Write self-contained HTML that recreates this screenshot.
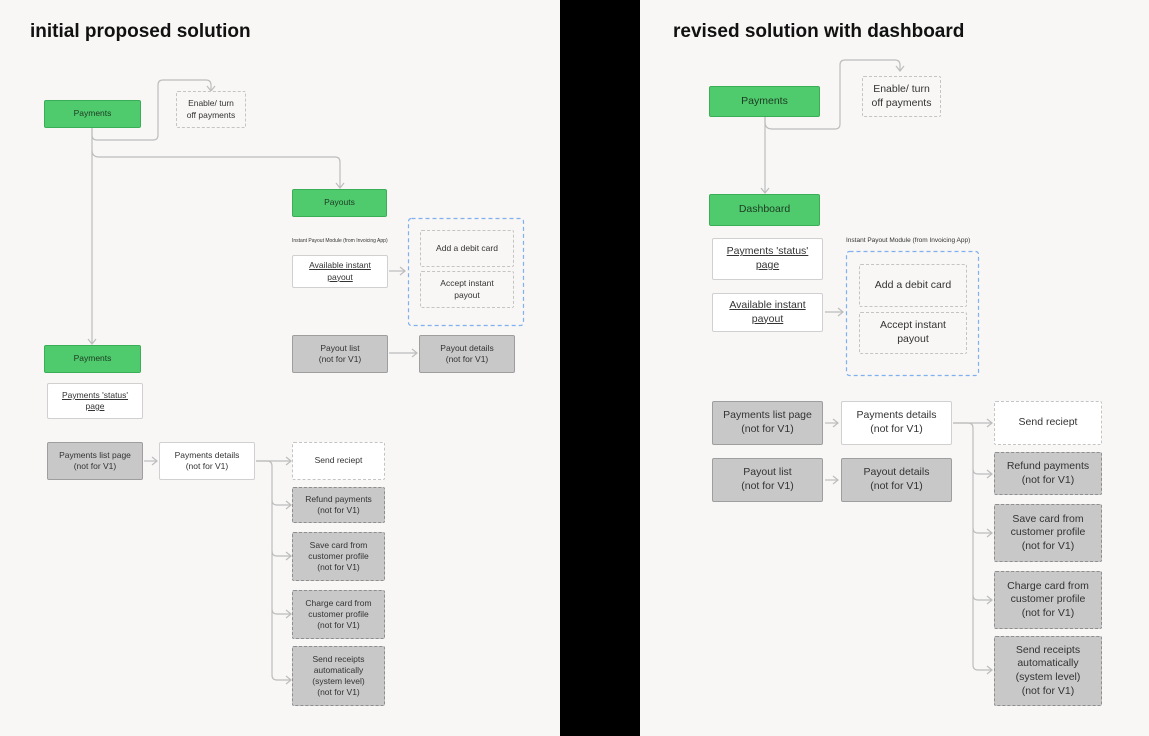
<!DOCTYPE html>
<html><head><meta charset="utf-8"><style>
body{margin:0;width:1149px;height:736px;background:#f8f7f5;position:relative;overflow:hidden;font-family:"Liberation Sans",sans-serif;color:#333}
.b{position:absolute;box-sizing:border-box;display:flex;align-items:center;justify-content:center;text-align:center;line-height:1.3;border-radius:2px}
.g{background:#4fcb6d;border:1px solid #3aae57;color:#1d3a22}
.w{background:#fff;border:1px solid #d0d0d0}
.d{background:#f8f7f5;border:1px dashed #c4c4c4}
.dw{background:#fff;border:1px dashed #c4c4c4}
.gr{background:#c8c8c8;border:1px solid #9e9e9e}
.gd{background:#c8c8c8;border:1px dashed #8e8e8e}
.u{text-decoration:underline}
.L{font-size:8.5px}
.R{font-size:10.5px}
.t{position:absolute;font-weight:bold;font-size:19px;color:#111}
.cap{position:absolute;white-space:nowrap}
</style></head><body>
<div style="position:absolute;left:560px;top:0;width:80px;height:736px;background:#000"></div>
<div class="t" style="left:30px;top:21px">initial proposed solution</div>
<div class="t" style="left:673px;top:21px">revised solution with dashboard</div>
<svg width="1149" height="736" style="position:absolute;left:0;top:0" fill="none" stroke="#bdbdbd" stroke-width="1.2">
<path d="M92 128 V344"/><path d="M88 339 L92 344 L96 339"/>
<path d="M92 128 V135 Q92 140 97 140 H153 Q158 140 158 135 V85 Q158 80 163 80 H206 Q211 80 211 85 V90"/><path d="M207 86 L211 91 L215 86"/>
<path d="M92 150 Q92 157 99 157 H335 Q340 157 340 162 V188"/><path d="M336 183 L340 188 L344 183"/>
<path d="M389 271 H405"/><path d="M400 267 L405 271 L400 275"/>
<path d="M389 353 H417"/><path d="M412 349 L417 353 L412 357"/>
<path d="M144 461 H157"/><path d="M152 457 L157 461 L152 465"/>
<path d="M256 461 H267 Q272 461 272 466 V675 Q272 680 277 680 H291"/>
<path d="M256 461 H290"/>
<path d="M272 500 Q272 505 277 505 H290 M272 551 Q272 556 277 556 H290 M272 609 Q272 614 277 614 H290"/>
<path d="M286 457 L291 461 L286 465 M286 501 L291 505 L286 509 M286 552 L291 556 L286 560 M286 610 L291 614 L286 618 M286 676 L291 680 L286 684"/>
<path d="M765 117 V193"/><path d="M761 188 L765 193 L769 188"/>
<path d="M765 117 V122 Q765 129 772 129 H835 Q840 129 840 124 V65 Q840 60 845 60 H895 Q900 60 900 65 V70"/><path d="M896 66 L900 71 L904 66"/>
<path d="M825 312 H843"/><path d="M838 308 L843 312 L838 316"/>
<path d="M825 423 H838"/><path d="M833 419 L838 423 L833 427"/>
<path d="M825 480 H838"/><path d="M833 476 L838 480 L833 484"/>
<path d="M953 423 H992"/>
<path d="M953 423 H968 Q973 423 973 428 V665 Q973 670 978 670 H992"/>
<path d="M973 469 Q973 474 978 474 H992 M973 528 Q973 533 978 533 H992 M973 595 Q973 600 978 600 H992"/>
<path d="M987 419 L992 423 L987 427 M987 470 L992 474 L987 478 M987 529 L992 533 L987 537 M987 596 L992 600 L987 604 M987 666 L992 670 L987 674"/>
<rect x="408.5" y="218.5" width="115" height="107" rx="3" stroke="#7fb0f0" stroke-dasharray="4 3"/>
<rect x="846.5" y="251.5" width="132" height="124" rx="3" stroke="#7fb0f0" stroke-dasharray="4 3"/>
</svg>
<!-- left -->
<div class="b g L" style="left:44px;top:100px;width:97px;height:28px">Payments</div>
<div class="b d L" style="left:176px;top:91px;width:70px;height:37px">Enable/ turn<br>off payments</div>
<div class="b g L" style="left:292px;top:189px;width:95px;height:28px">Payouts</div>
<div class="cap" style="left:292px;top:238px;font-size:5px">Instant Payout Module (from Invoicing App)</div>
<div class="b w L u" style="left:292px;top:255px;width:96px;height:33px">Available instant<br>payout</div>
<div class="b d L" style="left:420px;top:230px;width:94px;height:37px">Add a debit card</div>
<div class="b d L" style="left:420px;top:271px;width:94px;height:37px">Accept instant<br>payout</div>
<div class="b gr L" style="left:292px;top:335px;width:96px;height:38px">Payout list<br>(not for V1)</div>
<div class="b gr L" style="left:419px;top:335px;width:96px;height:38px">Payout details<br>(not for V1)</div>
<div class="b g L" style="left:44px;top:345px;width:97px;height:28px">Payments</div>
<div class="b w L u" style="left:47px;top:383px;width:96px;height:36px">Payments 'status'<br>page</div>
<div class="b gr L" style="left:47px;top:442px;width:96px;height:38px">Payments list page<br>(not for V1)</div>
<div class="b w L" style="left:159px;top:442px;width:96px;height:38px">Payments details<br>(not for V1)</div>
<div class="b dw L" style="left:292px;top:442px;width:93px;height:38px">Send reciept</div>
<div class="b gd L" style="left:292px;top:487px;width:93px;height:36px">Refund payments<br>(not for V1)</div>
<div class="b gd L" style="left:292px;top:532px;width:93px;height:49px">Save card from<br>customer profile<br>(not for V1)</div>
<div class="b gd L" style="left:292px;top:590px;width:93px;height:49px">Charge card from<br>customer profile<br>(not for V1)</div>
<div class="b gd L" style="left:292px;top:646px;width:93px;height:60px">Send receipts<br>automatically<br>(system level)<br>(not for V1)</div>
<!-- right -->
<div class="b g R" style="left:709px;top:86px;width:111px;height:31px">Payments</div>
<div class="b d R" style="left:862px;top:76px;width:79px;height:41px">Enable/ turn<br>off payments</div>
<div class="b g R" style="left:709px;top:194px;width:111px;height:32px">Dashboard</div>
<div class="b w R u" style="left:712px;top:238px;width:111px;height:42px">Payments 'status'<br>page</div>
<div class="b w R u" style="left:712px;top:293px;width:111px;height:39px">Available instant<br>payout</div>
<div class="cap" style="left:846px;top:237px;font-size:6.5px">Instant Payout Module (from Invoicing App)</div>
<div class="b d R" style="left:859px;top:264px;width:108px;height:43px">Add a debit card</div>
<div class="b d R" style="left:859px;top:312px;width:108px;height:42px">Accept instant<br>payout</div>
<div class="b gr R" style="left:712px;top:401px;width:111px;height:44px">Payments list page<br>(not for V1)</div>
<div class="b w R" style="left:841px;top:401px;width:111px;height:44px">Payments details<br>(not for V1)</div>
<div class="b dw R" style="left:994px;top:401px;width:108px;height:44px">Send reciept</div>
<div class="b gr R" style="left:712px;top:458px;width:111px;height:44px">Payout list<br>(not for V1)</div>
<div class="b gr R" style="left:841px;top:458px;width:111px;height:44px">Payout details<br>(not for V1)</div>
<div class="b gd R" style="left:994px;top:452px;width:108px;height:43px">Refund payments<br>(not for V1)</div>
<div class="b gd R" style="left:994px;top:504px;width:108px;height:58px">Save card from<br>customer profile<br>(not for V1)</div>
<div class="b gd R" style="left:994px;top:571px;width:108px;height:58px">Charge card from<br>customer profile<br>(not for V1)</div>
<div class="b gd R" style="left:994px;top:636px;width:108px;height:70px">Send receipts<br>automatically<br>(system level)<br>(not for V1)</div>
</body></html>
